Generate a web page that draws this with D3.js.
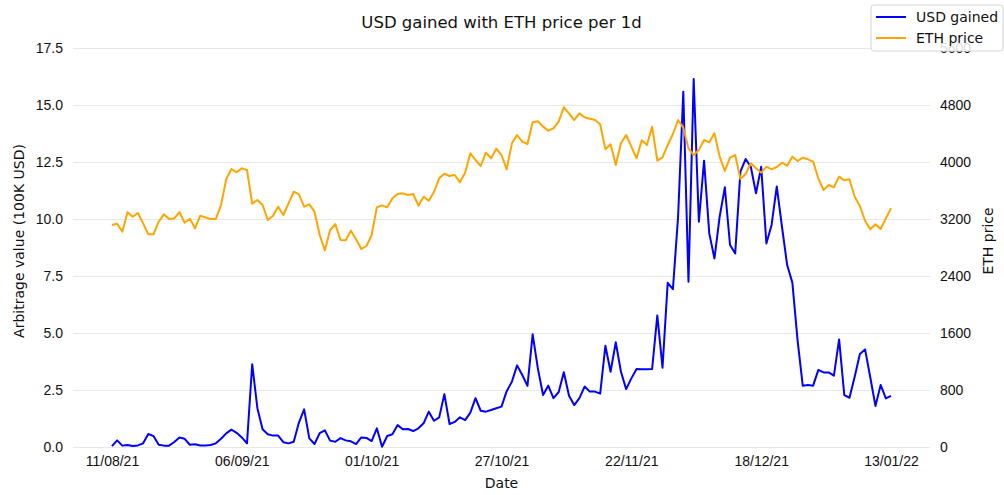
<!DOCTYPE html>
<html>
<head>
<meta charset="utf-8">
<script src="https://cdn.jsdelivr.net/npm/d3@7"></script>
<style>
  body { margin: 0; background: #fff; }
  svg { font-family: "DejaVu Sans", sans-serif; }
  .axis text { font-size: 14px; fill: #111; }
</style>
</head>
<body>
<div id="chart"></div>
<script>
// daily values, index 0 = 11/08/21
const usdGained = [
  0.04, 0.29, 0.06, 0.09, 0.04, 0.07, 0.16, 0.57, 0.48, 0.10,
  0.06, 0.06, 0.22, 0.42, 0.36, 0.10, 0.12, 0.07, 0.07, 0.09,
  0.16, 0.36, 0.60, 0.76, 0.62, 0.42, 0.16, 3.63, 1.70, 0.78,
  0.56, 0.50, 0.50, 0.21, 0.16, 0.23, 1.07, 1.65, 0.38, 0.13,
  0.61, 0.73, 0.28, 0.23, 0.39, 0.29, 0.25, 0.13, 0.42, 0.40,
  0.26, 0.82, 0.01, 0.48, 0.56, 0.96, 0.78, 0.79, 0.70, 0.82,
  1.04, 1.55, 1.15, 1.30, 2.32, 1.01, 1.10, 1.30, 1.18, 1.51,
  2.14, 1.59, 1.55, 1.62, 1.70, 1.77, 2.45, 2.86, 3.58, 3.16,
  2.68, 4.94, 3.45, 2.28, 2.69, 2.14, 2.40, 3.28, 2.25, 1.84,
  2.14, 2.65, 2.43, 2.43, 2.34, 4.44, 3.30, 4.59, 3.30, 2.54,
  3.01, 3.42, 3.41, 3.41, 3.42, 5.77, 3.48, 7.20, 6.92, 10.10,
  15.58, 7.25, 16.14, 9.88, 12.56, 9.37, 8.27, 10.10, 11.39, 8.86,
  8.49, 12.08, 12.63, 12.29, 11.13, 12.29, 8.93, 9.74, 11.43, 9.66,
  7.98, 7.21, 4.69, 2.69, 2.72, 2.69, 3.38, 3.27, 3.27, 3.13,
  4.72, 2.28, 2.16, 3.08, 4.08, 4.28, 3.06, 1.80, 2.72, 2.13,
  2.24
];

const ethPrice = [
  3116, 3134, 3022, 3294, 3232, 3284, 3139, 2985, 2985, 3162,
  3265, 3200, 3209, 3298, 3148, 3204, 3069, 3246, 3223, 3200,
  3200, 3396, 3757, 3902, 3855, 3911, 3888, 3415, 3467, 3396,
  3186, 3242, 3373, 3256, 3420, 3583, 3546, 3373, 3406, 3303,
  2975, 2760, 3046, 3128, 2905, 2901, 3036, 2915, 2779, 2821,
  2975, 3364, 3392, 3364, 3490, 3551, 3560, 3537, 3551, 3387,
  3513, 3457, 3579, 3771, 3836, 3803, 3817, 3715, 3850, 4122,
  4028, 3944, 4131, 4052, 4187, 4098, 3897, 4262, 4379, 4285,
  4253, 4557, 4571, 4496, 4440, 4473, 4566, 4768, 4683, 4589,
  4683, 4627, 4608, 4589, 4529, 4178, 4248, 3958, 4262, 4379,
  4215, 4052, 4305, 4239, 4496, 4018, 4066, 4239, 4393, 4589,
  4482, 4192, 4098, 4168, 4309, 4276, 4403, 4075, 3874, 4061,
  4098, 3761, 3832, 3982, 3911, 3850, 3934, 3897, 3930, 3990,
  3948, 4075, 4014, 4061, 4038, 4005, 3771, 3607, 3677, 3645,
  3794, 3743, 3757, 3513, 3382, 3176, 3055, 3125, 3060, 3209,
  3350
];

const dateTickIndex = [0, 25, 50, 75, 100, 125, 150];
const dateTickLabels = ['11/08/21', '06/09/21', '01/10/21', '27/10/21', '22/11/21', '18/12/21', '13/01/22'];
const leftTicks = [0, 2.5, 5, 7.5, 10, 12.5, 15, 17.5];
const rightTicks = [0, 800, 1600, 2400, 3200, 4000, 4800, 5600];

const width = 1004, height = 495;
const margin = { top: 48, right: 74, bottom: 48, left: 73 };
const labelMid = 241;

const svg = d3.select('#chart')
    .append('svg')
    .attr('width', width)
    .attr('height', height);

const n = usdGained.length - 1;
const pad = n * 0.05;

const x = d3.scaleLinear()
    .domain([-pad, n + pad])
    .range([margin.left, width - margin.right]);

const y = d3.scaleLinear()
    .domain([0, 17.5])
    .range([height - margin.bottom, margin.top]);

const y2 = d3.scaleLinear()
    .domain([0, 5600])
    .range([height - margin.bottom, margin.top]);

// grid
svg.append('g')
    .attr('transform', `translate(${margin.left},0)`)
    .call(d3.axisLeft(y).tickValues(leftTicks).tickSize(-(width - margin.left - margin.right)).tickFormat(''))
    .call(g => g.select('.domain').remove())
    .call(g => g.selectAll('line').attr('stroke', '#e8e8e8').attr('stroke-width', 1));

// axes
svg.append('g')
    .attr('class', 'axis')
    .attr('transform', `translate(${margin.left},0)`)
    .call(d3.axisLeft(y).tickValues(leftTicks).tickFormat(d3.format('.1f')).tickSize(0).tickPadding(10))
    .call(g => g.select('.domain').remove());

svg.append('g')
    .attr('class', 'axis')
    .attr('transform', `translate(${width - margin.right},0)`)
    .call(d3.axisRight(y2).tickValues(rightTicks).tickFormat(d3.format('d')).tickSize(0).tickPadding(10))
    .call(g => g.select('.domain').remove());

svg.append('g')
    .attr('class', 'axis')
    .attr('transform', `translate(0,${height - margin.bottom})`)
    .call(d3.axisBottom(x).tickValues(dateTickIndex).tickFormat((d, i) => dateTickLabels[i]).tickSize(0).tickPadding(9))
    .call(g => g.select('.domain').remove());

// lines
const usdLine = d3.line().x((d, i) => x(i)).y(d => y(d));
const ethLine = d3.line().x((d, i) => x(i)).y(d => y2(d));

svg.append('path')
    .datum(usdGained)
    .attr('fill', 'none')
    .attr('stroke', 'blue')
    .attr('stroke-width', 2)
    .attr('stroke-linejoin', 'round')
    .attr('d', usdLine);

svg.append('path')
    .datum(ethPrice)
    .attr('fill', 'none')
    .attr('stroke', 'orange')
    .attr('stroke-width', 2)
    .attr('stroke-linejoin', 'round')
    .attr('d', ethLine);

// titles
svg.append('text')
    .attr('x', (margin.left + width - margin.right) / 2)
    .attr('y', 28)
    .attr('text-anchor', 'middle')
    .attr('font-size', '16.5px')
    .attr('fill', '#111')
    .text('USD gained with ETH price per 1d');

svg.append('text')
    .attr('x', (margin.left + width - margin.right) / 2)
    .attr('y', 488)
    .attr('text-anchor', 'middle')
    .attr('font-size', '14px')
    .attr('fill', '#111')
    .text('Date');

svg.append('text')
    .attr('transform', `translate(24,${labelMid}) rotate(-90)`)
    .attr('text-anchor', 'middle')
    .attr('font-size', '14px')
    .attr('fill', '#111')
    .text('Arbitrage value (100K USD)');

svg.append('text')
    .attr('transform', `translate(993,${labelMid}) rotate(-90)`)
    .attr('text-anchor', 'middle')
    .attr('font-size', '14px')
    .attr('fill', '#111')
    .text('ETH price');

// legend
const legend = svg.append('g').attr('transform', 'translate(871,5)');
legend.append('rect')
    .attr('width', 132)
    .attr('height', 46)
    .attr('rx', 3)
    .attr('fill', 'rgba(255,255,255,0.85)')
    .attr('stroke', '#d6d6d6');

const legendItems = [
  { name: 'USD gained', color: 'blue' },
  { name: 'ETH price', color: 'orange' }
];
legendItems.forEach((d, i) => {
    const gy = 12 + i * 21;
    legend.append('line')
        .attr('x1', 5).attr('x2', 35)
        .attr('y1', gy).attr('y2', gy)
        .attr('stroke', d.color)
        .attr('stroke-width', 2);
    legend.append('text')
        .attr('x', 45)
        .attr('y', gy)
        .attr('dy', '0.35em')
        .attr('font-size', '14px')
        .attr('fill', '#111')
        .text(d.name);
});
</script>
</body>
</html>
